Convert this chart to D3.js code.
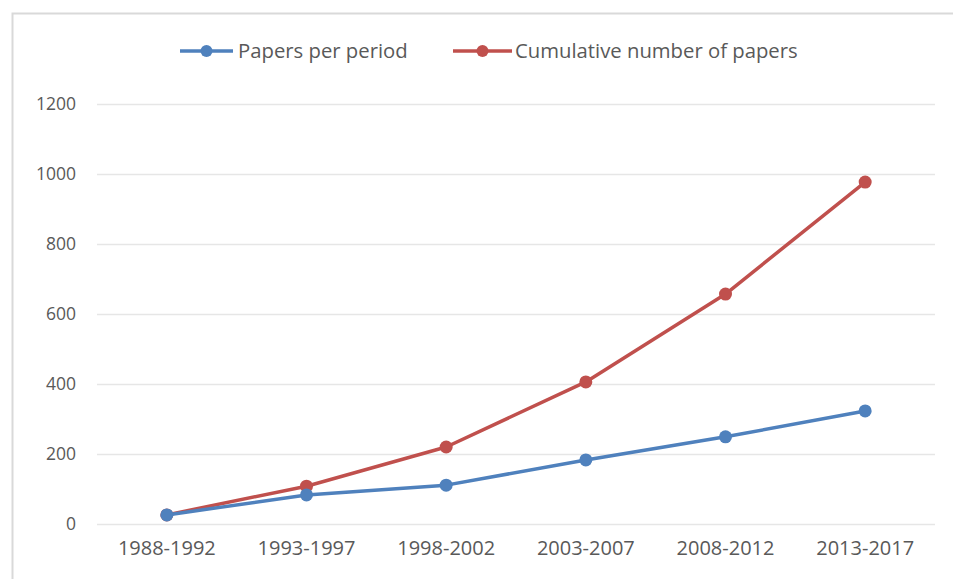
<!DOCTYPE html>
<html>
<head>
<meta charset="utf-8">
<script src="https://cdn.jsdelivr.net/npm/d3@7"></script>
<style>
  html, body { margin: 0; padding: 0; background: #fff; }
  svg text { font-family: "Open Sans", sans-serif; fill: #595959; }
</style>
</head>
<body>
<svg id="chart" width="953" height="579"></svg>
<script>
// Publication periods and paper counts
const periods = ["1988-1992", "1993-1997", "1998-2002", "2003-2007", "2008-2012", "2013-2017"];
const papersPerPeriod = [26, 83, 111, 183, 249, 323];
const cumulativePapers = [26, 108, 220, 406, 657, 977];
const yTicks = [0, 200, 400, 600, 800, 1000, 1200];
const seriesNames = ["Papers per period", "Cumulative number of papers"];
const seriesColors = ["#4F81BD", "#C0504D"];

const svg = d3.select("#chart");
const W = 953, H = 579;
const plot = { left: 97, right: 935, top: 104, bottom: 524 };

// chart frame
svg.append("path")
  .attr("d", `M12.5,${H} L12.5,13.5 L${W},13.5`)
  .attr("fill", "none").attr("stroke", "#d9d9d9").attr("stroke-width", 2);

const x = d3.scaleBand().domain(periods).range([plot.left, plot.right]);
const y = d3.scaleLinear().domain([0, 1200]).range([plot.bottom, plot.top]);

// gridlines + y labels
const yAxis = d3.axisLeft(y).tickValues(yTicks).tickFormat(d3.format("d"))
  .tickSize(-(plot.right - plot.left)).tickPadding(21);
const gy = svg.append("g").attr("transform", `translate(${plot.left},0)`).call(yAxis);
gy.select(".domain").remove();
gy.selectAll(".tick line").attr("stroke", "#e6e6e6").attr("stroke-width", 1.5);
gy.selectAll(".tick text").attr("font-size", 17.5).style("font-family", null);

// x labels
const xAxis = d3.axisBottom(x).tickSize(0).tickPadding(17);
const gx = svg.append("g").attr("transform", `translate(0,${plot.bottom})`).call(xAxis);
gx.select(".domain").remove();
gx.selectAll(".tick text").attr("font-size", 20).style("font-family", null);

const cx = p => x(p) + x.bandwidth() / 2;
const series = [papersPerPeriod, cumulativePapers];
const line = d3.line().x((d, i) => cx(periods[i])).y(d => y(d));

// draw cumulative first so per-period sits consistently below it
[1, 0].forEach(s => {
  const g = svg.append("g");
  g.append("path").datum(series[s])
    .attr("d", line).attr("fill", "none")
    .attr("stroke", seriesColors[s]).attr("stroke-width", 3.5)
    .attr("stroke-linejoin", "round").attr("stroke-linecap", "round");
  g.selectAll("circle").data(series[s]).join("circle")
    .attr("cx", (d, i) => cx(periods[i])).attr("cy", d => y(d))
    .attr("r", 6.5).attr("fill", seriesColors[s]);
});

// legend
const legendItems = [
  { x0: 180, x1: 233, tx: 238 },
  { x0: 453, x1: 512, tx: 515 }
];
legendItems.forEach((it, i) => {
  const g = svg.append("g");
  g.append("line").attr("x1", it.x0).attr("x2", it.x1).attr("y1", 51).attr("y2", 51)
    .attr("stroke", seriesColors[i]).attr("stroke-width", 3.5);
  g.append("circle").attr("cx", (it.x0 + it.x1) / 2).attr("cy", 51).attr("r", 6).attr("fill", seriesColors[i]);
  g.append("text").attr("x", it.tx).attr("y", 51).attr("dy", "0.35em")
    .attr("font-size", 20.3).text(seriesNames[i]);
});
</script>
</body>
</html>
